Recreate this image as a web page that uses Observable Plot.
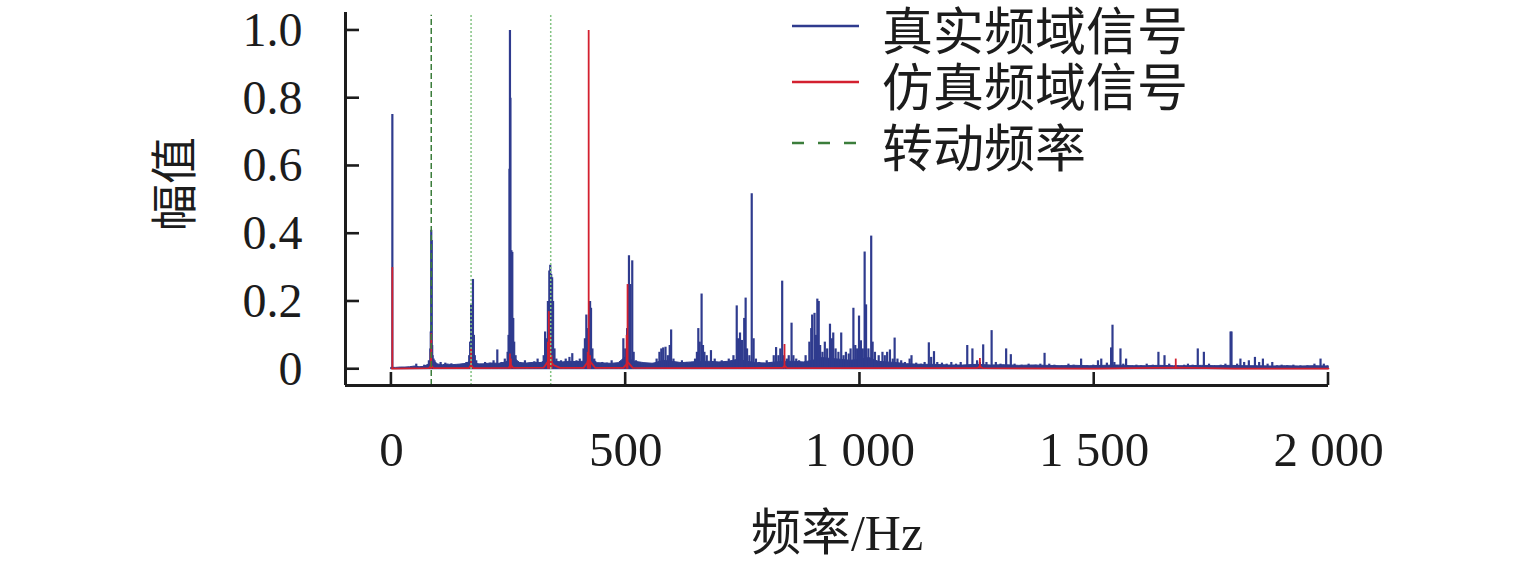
<!DOCTYPE html>
<html><head><meta charset="utf-8">
<script src="https://cdn.jsdelivr.net/npm/d3@7"></script>
<script src="https://cdn.jsdelivr.net/npm/@observablehq/plot@0.6"></script>
<style>body{margin:0;background:#fff;} svg{display:block}</style>
</head><body><div id="chart"></div>
<script>
// ---------- data ----------
const xTicks = [0, 500, 1000, 1500, 2000];
const xTickLabels = ["0", "500", "1 000", "1 500", "2 000"];
const yTicks = [0, 0.2, 0.4, 0.6, 0.8, 1.0];
const yTickLabels = ["0", "0.2", "0.4", "0.6", "0.8", "1.0"];
const xTitle = "频率/Hz";
const yTitle = "幅值";
const seriesNames = ["真实频域信号", "仿真频域信号", "转动频率"];
const rotFreq = [85, 170, 340];

// real (measured) spectrum: spikes [Hz, amplitude]
const realPeaks = [
  [2,0.752],[53,0.015],[70,0.012],[80,0.025],[83,0.06],[84,0.11],[85,0.41],[86,0.38],[87,0.07],[88,0.04],[90,0.03],[92,0.025],
  [105,0.02],[115,0.018],[128,0.016],[140,0.012],[150,0.015],[160,0.02],
  [166,0.04],[168,0.08],[170,0.19],[172,0.12],[174,0.265],[176,0.1],[178,0.04],[181,0.025],
  [190,0.015],[200,0.02],[210,0.018],[218,0.025],[226,0.057],[235,0.02],[242,0.03],[248,0.05],
  [250,0.1],[252,0.59],[253,1.0],[254,0.8],[256,0.35],[258,0.345],[260,0.15],[262,0.08],[265,0.04],
  [275,0.02],[285,0.025],[295,0.018],[305,0.022],[312,0.03],[318,0.02],[325,0.04],
  [328,0.11],[331,0.09],[334,0.2],[337,0.29],[339,0.307],[341,0.28],[343,0.27],[345,0.2],[348,0.06],[352,0.03],
  [362,0.025],[372,0.03],[380,0.035],[386,0.046],[395,0.025],[402,0.03],[410,0.06],
  [413,0.09],[416,0.16],[418,0.12],[421,0.05],[424,0.2],[426,0.18],[429,0.06],[433,0.03],
  [440,0.015],[450,0.02],[460,0.018],[470,0.025],[480,0.015],[488,0.02],
  [495,0.09],[499,0.06],[503,0.12],[507,0.335],[510,0.25],[514,0.32],[517,0.05],[522,0.025],
  [530,0.02],[540,0.015],[550,0.012],[560,0.018],[566,0.03],[572,0.05],[576,0.06],[580,0.063],[585,0.065],[590,0.04],[594,0.07],[597,0.116],
  [602,0.03],[610,0.02],[620,0.025],[630,0.02],[640,0.02],[648,0.03],
  [652,0.05],[655,0.12],[658,0.08],[662,0.222],[665,0.07],[668,0.05],[673,0.04],[682,0.055],[690,0.03],[698,0.02],[705,0.025],[712,0.02],[720,0.03],
  [730,0.04],[737,0.187],[740,0.09],[744,0.107],[748,0.085],[753,0.15],[756,0.21],[759,0.06],[764,0.04],[769,0.518],[773,0.09],[778,0.03],
  [785,0.02],[792,0.015],[801,0.025],[810,0.02],[816,0.04],[821,0.064],[826,0.04],[830,0.06],[834,0.26],[838,0.04],[844,0.03],[848,0.04],[854,0.136],
  [858,0.04],[864,0.03],[870,0.025],[878,0.02],[884,0.04],
  [892,0.08],[896,0.12],[898,0.16],[903,0.165],[906,0.1],[909,0.207],[912,0.2],[915,0.07],[920,0.05],[925,0.08],[930,0.06],[936,0.133],[940,0.09],[943,0.107],
  [948,0.06],[954,0.05],[960,0.107],[965,0.04],[970,0.05],[976,0.045],[980,0.06],[986,0.18],[990,0.07],[994,0.06],[998,0.157],[1002,0.084],[1006,0.06],
  [1010,0.346],[1013,0.19],[1018,0.06],[1024,0.393],[1027,0.08],[1032,0.05],[1040,0.04],[1048,0.05],[1053,0.04],[1058,0.05],[1064,0.057],[1070,0.03],[1074,0.092],
  [1080,0.03],[1088,0.025],[1096,0.02],[1106,0.03],[1110,0.04],[1120,0.018],[1130,0.015],[1138,0.02],[1147,0.078],[1152,0.035],[1158,0.052],[1165,0.02],
  [1175,0.018],[1185,0.015],[1195,0.02],[1205,0.015],[1215,0.02],[1229,0.07],[1240,0.06],[1250,0.025],[1256,0.02],[1263,0.072],[1270,0.02],[1281,0.114],
  [1290,0.02],[1300,0.015],[1312,0.06],[1322,0.043],[1330,0.015],[1345,0.012],[1360,0.015],[1375,0.012],[1385,0.015],[1394,0.047],[1404,0.015],[1415,0.012],
  [1430,0.01],[1445,0.015],[1456,0.012],[1472,0.03],[1485,0.01],[1498,0.012],[1508,0.025],[1515,0.03],[1527,0.018],[1536,0.063],[1539,0.13],[1543,0.02],
  [1556,0.06],[1562,0.015],[1568,0.03],[1580,0.01],[1590,0.012],[1600,0.01],[1612,0.015],[1625,0.012],[1637,0.05],[1650,0.04],[1660,0.015],[1678,0.01],
  [1692,0.012],[1700,0.015],[1710,0.012],[1721,0.06],[1734,0.05],[1745,0.015],[1758,0.01],[1770,0.012],[1780,0.015],[1791,0.11],[1793,0.11],[1805,0.015],
  [1812,0.03],[1820,0.02],[1830,0.025],[1843,0.035],[1852,0.02],[1860,0.03],[1870,0.015],[1880,0.02],[1890,0.01],[1900,0.012],[1912,0.01],[1925,0.012],
  [1940,0.01],[1955,0.01],[1970,0.015],[1983,0.03],[1990,0.015],[1998,0.01]
];
// real spectrum noise floor [Hz, amplitude]
const realFloor = [
  [0,0.004],[10,0.004],[20,0.005],[30,0.005],[40,0.006],[50,0.008],[60,0.006],[70,0.007],[80,0.014],[90,0.024],[100,0.014],[110,0.012],
  [120,0.014],[130,0.012],[140,0.013],[150,0.014],[160,0.016],[170,0.024],[180,0.016],[190,0.014],[200,0.015],[215,0.017],[230,0.016],
  [245,0.02],[260,0.035],[275,0.018],[290,0.017],[305,0.019],[320,0.018],[335,0.03],[350,0.022],[365,0.02],[380,0.022],[395,0.021],
  [410,0.022],[425,0.035],[440,0.018],[455,0.017],[470,0.016],[485,0.018],[500,0.035],[520,0.022],[540,0.018],[560,0.016],[580,0.025],
  [600,0.022],[620,0.018],[640,0.02],[660,0.022],[680,0.022],[700,0.02],[720,0.022],[740,0.028],[760,0.022],[780,0.018],[800,0.017],
  [820,0.02],[840,0.022],[860,0.022],[880,0.02],[900,0.025],[920,0.033],[940,0.03],[960,0.028],[980,0.025],[1000,0.028],[1020,0.033],
  [1040,0.022],[1060,0.02],[1080,0.018],[1100,0.015],[1130,0.013],[1160,0.013],[1190,0.011],[1220,0.011],[1250,0.013],[1280,0.011],
  [1310,0.012],[1340,0.01],[1370,0.011],[1400,0.01],[1430,0.009],[1460,0.01],[1490,0.009],[1520,0.01],[1550,0.011],[1580,0.009],
  [1610,0.009],[1640,0.01],[1670,0.009],[1700,0.009],[1730,0.01],[1760,0.009],[1790,0.01],[1820,0.009],[1850,0.009],[1880,0.008],
  [1910,0.009],[1940,0.008],[1970,0.009],[2000,0.008]
];
// simulated spectrum: spikes [Hz, amplitude]
const simPeaks = [
  [2,0.3],[84,0.05],[85,0.105],[170,0.06],[253,0.045],[255,0.03],[334,0.08],[336,0.17],[339,0.1],[342,0.04],
  [419,0.05],[421,1.0],[424,0.04],[502,0.1],[504,0.25],[839,0.073],[1256,0.032],[1674,0.03]
];
// simulated spectrum floor [Hz, amplitude]
const simFloor = [
  [1,0.002],[80,0.003],[85,0.01],[90,0.003],[165,0.003],[170,0.012],[175,0.003],[250,0.004],[255,0.012],[260,0.004],
  [325,0.005],[330,0.015],[338,0.03],[346,0.012],[360,0.004],[410,0.004],[418,0.02],[421,0.03],[426,0.02],[435,0.004],
  [495,0.004],[505,0.02],[515,0.004],[600,0.003],[700,0.003],[835,0.004],[839,0.01],[845,0.003],[1000,0.003],[1250,0.003],
  [1256,0.008],[1262,0.003],[1500,0.002],[1674,0.005],[1800,0.002],[2000,0.002]
];

// ---------- styles ----------
const BLUE = "#2f3b8e", RED = "#d3202f", GREEN_DARK = "#3b7d3b", GREEN_LIGHT = "#84c484";
const INK = "#1c1c1c";
const SERIF = "'Liberation Serif','Noto Sans CJK SC',serif";
const CJK = "'Noto Sans CJK SC','Liberation Serif',sans-serif";
const xDomain = [-98, 2000], yDomain = [-0.048, 1.053];

const toObj = a => a.map(([f, v]) => ({f, v}));

const plot = Plot.plot({
  width: 1535, height: 567,
  marginLeft: 345, marginRight: 207, marginTop: 12, marginBottom: 182,
  x: {domain: xDomain}, y: {domain: yDomain},
  style: {background: "#fff", color: INK},
  marks: [
    Plot.areaY(toObj(realFloor), {x: "f", y: "v", fill: BLUE, stroke: BLUE, strokeWidth: 1}),
    Plot.ruleX(toObj(realPeaks), {x: "f", y1: 0, y2: "v", stroke: BLUE, strokeWidth: 2.2}),
    Plot.line(toObj(simFloor), {x: "f", y: "v", stroke: RED, strokeWidth: 1.8}),
    Plot.ruleX(toObj(simPeaks), {x: "f", y1: 0, y2: "v", stroke: RED, strokeWidth: 1.8}),
    Plot.ruleX(rotFreq.slice(0, 1), {y1: yDomain[0], y2: 1.045, stroke: GREEN_DARK, strokeWidth: 1.5, strokeDasharray: "6,3"}),
    Plot.ruleX(rotFreq.slice(1), {y1: yDomain[0], y2: 1.045, stroke: GREEN_LIGHT, strokeWidth: 1.5, strokeDasharray: "2,2"}),
    Plot.ruleX([xDomain[0]], {stroke: INK, strokeWidth: 3}),
    Plot.ruleY([yDomain[0]], {stroke: INK, strokeWidth: 3}),
    Plot.axisX(xTicks, {tickSize: 0, tickPadding: 46, fontSize: 49, fontFamily: SERIF, fill: INK,
      tickFormat: d => xTickLabels[xTicks.indexOf(d)], label: null}),
    Plot.axisY(yTicks, {tickSize: 0, tickPadding: 43, fontSize: 48, fontFamily: SERIF, fill: INK,
      tickFormat: d => yTickLabels[yTicks.indexOf(d)], label: null}),
    Plot.text([xTitle], {frameAnchor: "bottom", dy: 148, fontSize: 50, fontFamily: SERIF, fill: INK, lineAnchor: "middle", textAnchor: "middle"}),
    Plot.text([yTitle], {frameAnchor: "left", dx: -170, dy: -15, rotate: -90, fontSize: 47, fontFamily: CJK, fill: INK, lineAnchor: "middle", textAnchor: "middle"})
  ]
});

// inward ticks drawn with the plot's own scales
const svg = d3.select(plot);
const sx = plot.scale("x"), sy = plot.scale("y");
const x0 = sx.apply(xDomain[0]), y0 = sy.apply(yDomain[0]);
const tg = svg.append("g").attr("stroke", INK).attr("stroke-width", 2.6);
yTicks.forEach(v => tg.append("line").attr("x1", x0).attr("x2", x0 + 14).attr("y1", sy.apply(v)).attr("y2", sy.apply(v)));
xTicks.forEach(v => tg.append("line").attr("x1", sx.apply(v)).attr("x2", sx.apply(v)).attr("y1", y0).attr("y2", y0 - 13));

// legend
const legendColors = [BLUE, RED, GREEN_DARK];
const legendDash = ["none", "none", "12,14"];
const lg = svg.append("g").attr("text-anchor", "start");
const rowY = [26, 82, 143];
seriesNames.forEach((name, i) => {
  lg.append("line").attr("x1", 792).attr("x2", 859).attr("y1", rowY[i]).attr("y2", rowY[i])
    .attr("stroke", legendColors[i]).attr("stroke-width", 2.6).attr("stroke-dasharray", legendDash[i]);
  lg.append("text").attr("x", 882).attr("y", rowY[i] + 2).attr("dominant-baseline", "central")
    .attr("text-anchor", "start")
    .attr("font-family", CJK).attr("font-size", 51).attr("fill", INK).text(name);
});

document.getElementById("chart").appendChild(plot);
</script>
</body></html>
